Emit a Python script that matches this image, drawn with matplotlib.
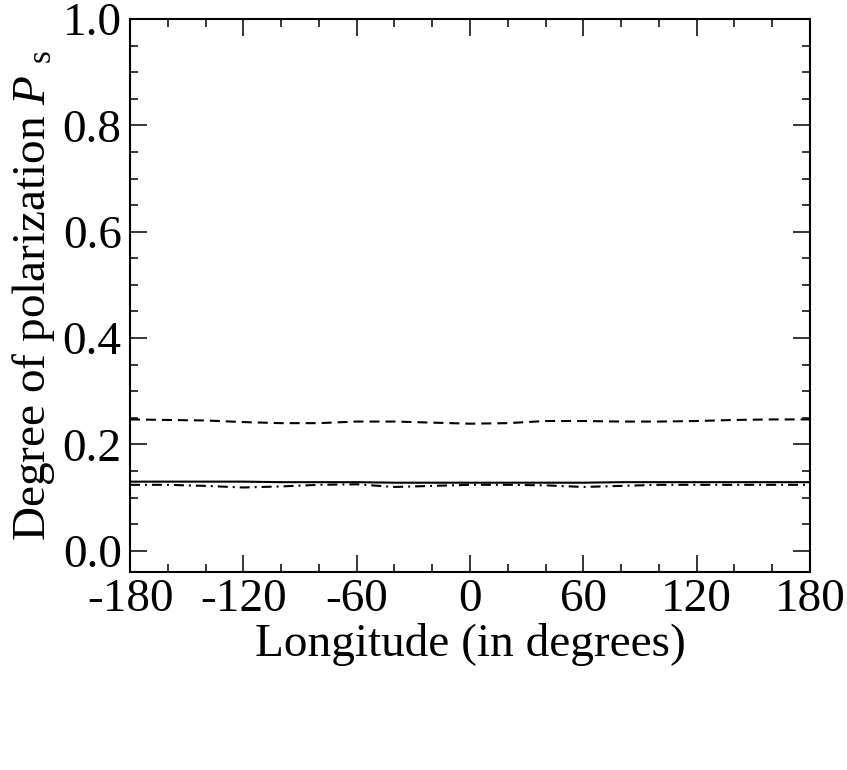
import matplotlib
matplotlib.use("Agg")
import matplotlib.pyplot as plt
from matplotlib.ticker import MultipleLocator, FixedLocator

longitude = [-180, -160, -140, -120, -100, -80, -60, -40, -20, 0, 20, 40, 60, 80, 100, 120, 140, 160, 180]
p_solid = [0.130, 0.130, 0.130, 0.130, 0.129, 0.129, 0.129, 0.128, 0.128, 0.128, 0.128, 0.128, 0.128, 0.129, 0.129, 0.129, 0.129, 0.129, 0.129]
p_dashed = [0.247, 0.246, 0.245, 0.242, 0.240, 0.240, 0.243, 0.243, 0.241, 0.239, 0.240, 0.244, 0.244, 0.243, 0.243, 0.244, 0.246, 0.247, 0.247]
p_dashdot = [0.124, 0.124, 0.122, 0.119, 0.121, 0.124, 0.125, 0.120, 0.122, 0.124, 0.124, 0.123, 0.120, 0.122, 0.124, 0.124, 0.124, 0.124, 0.124]
xticks = [-180, -120, -60, 0, 60, 120, 180]
yticks = [0.0, 0.2, 0.4, 0.6, 0.8, 1.0]

plt.rcParams['font.family'] = ['Liberation Serif', 'DejaVu Serif']
plt.rcParams['mathtext.fontset'] = 'custom'
plt.rcParams['mathtext.rm'] = 'Liberation Serif'
plt.rcParams['mathtext.it'] = 'Liberation Serif:italic'
plt.rcParams['lines.scale_dashes'] = False

fig = plt.figure(figsize=(8.47, 7.70), dpi=100)
ax = fig.add_axes([0.1535, 0.2571, 0.8028, 0.7182])

ax.plot(longitude, p_solid, color='black', lw=1.5, ls='-')
ax.plot(longitude, p_dashed, color='black', lw=1.5, dashes=(7.2, 4.3))
ax.plot(longitude, p_dashdot, color='black', lw=1.5, dashes=(7.2, 3.6, 1.4, 3.6))

ax.set_xlim(-180, 180)
ax.set_ylim(-0.04, 1.0)
ax.xaxis.set_major_locator(FixedLocator(xticks))
ax.xaxis.set_minor_locator(MultipleLocator(20))
ax.yaxis.set_major_locator(FixedLocator(yticks))
ax.yaxis.set_minor_locator(MultipleLocator(0.05))
ax.set_xticklabels([str(v) for v in xticks])
ax.set_yticklabels(['%.1f' % v for v in yticks])

ax.tick_params(which='both', direction='in', top=True, right=True, width=1.1, labelsize=34)
ax.tick_params(axis='x', pad=5)
ax.tick_params(axis='y', pad=6)
ax.tick_params(which='major', length=12)
ax.tick_params(which='minor', length=6)
for s in ax.spines.values():
    s.set_linewidth(1.5)

ax.set_xlabel('Longitude (in degrees)', fontsize=34, labelpad=1)
ax.set_ylabel(r'Degree of polarization $P$ $_{\rm s}$', fontsize=34, labelpad=4)

fig.savefig('out.png', dpi=100)
